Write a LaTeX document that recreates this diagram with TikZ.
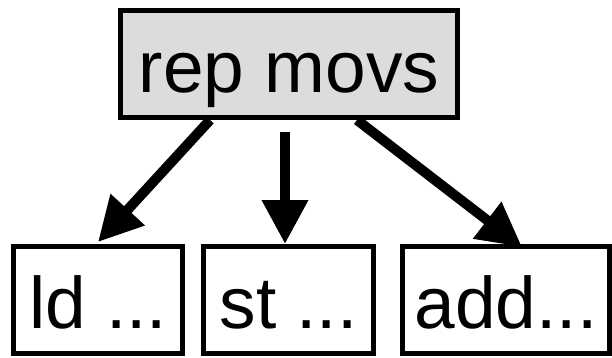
\documentclass[tikz,border=0pt]{standalone}
\usepackage{fontspec}
\setmainfont{Liberation Sans}
\usetikzlibrary{arrows.meta}
\definecolor{boxgray}{RGB}{220,220,222}
\begin{document}
\begin{tikzpicture}[x=1pt,y=1pt,
  box/.style={draw=black, line width=5pt, inner sep=0pt, minimum height=107pt,
    text height=56pt, text depth=0pt, font=\fontsize{73}{80}\selectfont},
  arr/.style={line width=10pt, -{Triangle[length=44pt,width=44pt]}}]
\useasboundingbox (0,0) rectangle (612,357);
\node[box, fill=boxgray, minimum width=337pt] (top) at (289,293) {rep movs};
\node[box, minimum width=169pt] (ld) at (98,57) {ld ...};
\node[box, minimum width=170pt] (st) at (288.5,57) {st ...};
\node[box, minimum width=207pt] (add) at (506,57) {add...};
\coordinate (s2) at (285,225);
\draw[arr] ([xshift=-79pt]top.south) -- ([yshift=2pt]ld.north);
\draw[arr] (s2) -- (s2 |- st.north);
\draw[arr] ([xshift=68pt]top.south) -- ([xshift=16pt,yshift=-3pt]add.north);
\end{tikzpicture}
\end{document}
